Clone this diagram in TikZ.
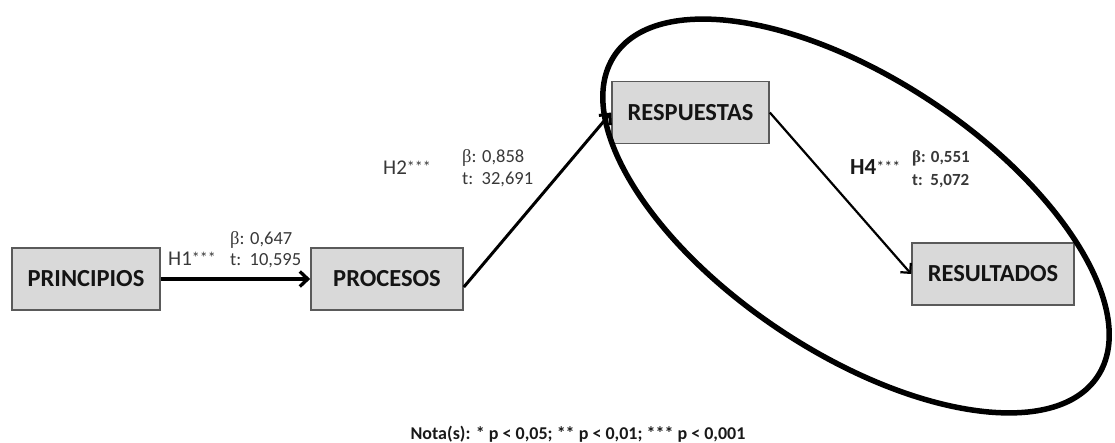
\documentclass[tikz,border=0pt]{standalone}
\usepackage{fontspec}
\setmainfont{Carlito}
\newfontfamily\greekfont{Liberation Serif}
\usetikzlibrary{arrows.meta}
\definecolor{boxfill}{HTML}{D9D9D9}
\definecolor{boxline}{HTML}{5A5A5A}
\definecolor{labelgray}{HTML}{383838}
\newcommand\sigstars{\raisebox{2pt}{\fontsize{16}{16}\selectfont ***}}
\begin{document}
\begin{tikzpicture}[x=1pt,y=-1pt,
  construct/.style={draw=boxline, line width=1.6pt, fill=boxfill,
    minimum height=62pt, inner sep=0pt,
    font=\fontsize{24.5}{26}\selectfont\bfseries, text=black!92},
  hyp/.style={inner sep=0pt, text=labelgray, font=\fontsize{21}{22}\selectfont},
  stat/.style={inner sep=0pt, text=labelgray, font=\fontsize{18.5}{20}\selectfont},
  link/.style={draw=black, line width=3.3pt, -{Straight Barb[length=8pt,width=15pt]}},
  thinlink/.style={draw=black, line width=2.2pt, -{Straight Barb[length=7pt,width=14pt]}}]
\useasboundingbox (0,0) rectangle (1115,443);

% constructs
\node[construct, minimum width=148pt] (pri) at (86,279) {PRINCIPIOS};
\node[construct, minimum width=152pt] (pro) at (387,279) {PROCESOS};
\node[construct, minimum width=157pt] (res) at (690.5,112.5) {RESPUESTAS};
\node[construct, minimum width=162pt] (rsl) at (993,274) {RESULTADOS};

% structural paths
\draw[link] (pri.east) -- (pro.west);
\draw[link, line width=3pt] (pro.-6) -- (res.west);
\draw[thinlink] (res.east) -- (rsl.west);

% grouping ellipse
\draw[line width=5.5pt, rotate around={-33.6:(856,216)}]
  (856,216) ellipse [x radius=290, y radius=137];

% path coefficients
\node[hyp, anchor=base west] (h1) at (168,266) {H1\sigstars};
\node[stat, anchor=base west] (b1) at (230,245) {{\greekfont β}: 0,647};
\node[stat, anchor=base west] (t1) at (230,266) {t:\ \ 10,595};

\node[hyp, anchor=base west] (h2) at (383,175) {H2\sigstars};
\node[stat, anchor=base west] (b2) at (462,163) {{\greekfont β}: 0,858};
\node[stat, anchor=base west] (t2) at (462,185) {t:\ \ 32,691};

\node[hyp, anchor=base west, text=black!90, font=\fontsize{23}{24}\selectfont\bfseries] (h4) at (850,175) {H4{\mdseries\sigstars}};
\node[stat, anchor=base west, font=\fontsize{17}{18}\selectfont\bfseries] (b4) at (912,163) {{\greekfont\bfseries β}: 0,551};
\node[stat, anchor=base west, font=\fontsize{17}{18}\selectfont\bfseries] (t4) at (912,186) {t:\ \ 5,072};

% significance note
\node[anchor=base, inner sep=0pt, text=black!90, font=\fontsize{18}{20}\selectfont\bfseries] (note) at (578,439)
  {Nota(s): * p < 0,05; ** p < 0,01; *** p < 0,001};
\end{tikzpicture}
\end{document}
